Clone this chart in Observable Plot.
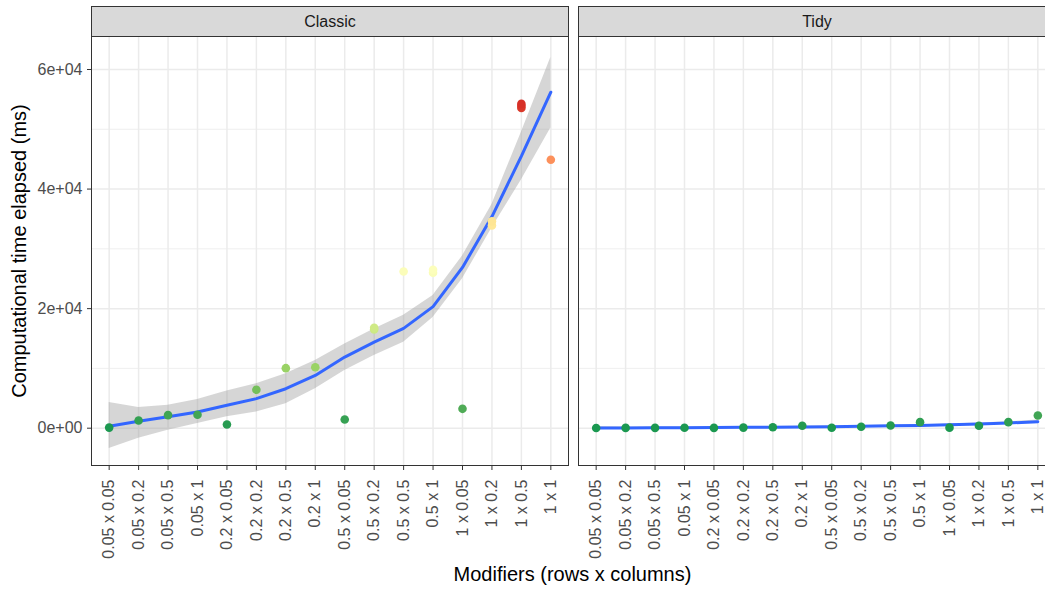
<!DOCTYPE html>
<html><head><meta charset="utf-8">
<script src="https://cdn.jsdelivr.net/npm/d3@7"></script>
<script src="https://cdn.jsdelivr.net/npm/@observablehq/plot@0.6"></script>
<style>
html,body{margin:0;padding:0;background:#fff;overflow:hidden}
#wrap{position:relative;width:1045px;height:590px;overflow:hidden;font-family:"Liberation Sans",Arial,Helvetica,sans-serif}
.strip{position:absolute;top:6px;height:31px;box-sizing:border-box;background:#d9d9d9;border:1px solid #333;font-size:16px;color:#1a1a1a;display:flex;align-items:center;justify-content:center}
.panel{position:absolute;top:0;height:590px}
.panel svg{max-width:none !important}
#xtitle{position:absolute;left:91px;width:963px;top:563px;text-align:center;font-size:20px;color:#000}
#ytitle{position:absolute;left:19px;top:251px;transform:translate(-50%,-50%) rotate(-90deg);white-space:nowrap;font-size:20px;color:#000}
</style>
</head><body>
<div id="wrap">
  <div id="left" class="panel" style="left:0;width:569px"></div>
  <div id="right" class="panel" style="left:577px;width:479px"></div>
  <div class="strip" style="left:91px;width:478px">Classic</div>
  <div class="strip" style="left:578px;width:478px">Tidy</div>
  <div id="xtitle">Modifiers (rows x columns)</div>
  <div id="ytitle">Computational time elapsed (ms)</div>
</div>
<script>
// ---- data ----
const categories = ["0.05 x 0.05","0.05 x 0.2","0.05 x 0.5","0.05 x 1","0.2 x 0.05","0.2 x 0.2","0.2 x 0.5","0.2 x 1","0.5 x 0.05","0.5 x 0.2","0.5 x 0.5","0.5 x 1","1 x 0.05","1 x 0.2","1 x 0.5","1 x 1"];
const panels = ["Classic", "Tidy"];
// elapsed time (ms), runs per category
const classicRuns = [[100],[1290],[2180],[2240],[620],[6420],[10040],[10200],[1460],[16500,16800],[26200],[26000,26500],[3240],[33900,34600],[53550,53900,54250],[44900]];
const tidyRuns = [[40],[50],[60],[70],[60],[100],[170],[400],[80],[230],[450],[1010],[90],[400],[1010],[2120]];
// loess smooth (fit and 95% band)
const classicFit = [330,1170,1900,2720,3830,4950,6600,8830,11900,14400,16700,20330,26900,35400,45500,56200];
const classicLo  = [-3400,-1700,-330,780,1900,2720,4100,6600,9670,12170,14380,18500,25000,33500,41500,50200];
const classicHi  = [4280,3450,3830,4780,6220,7450,9100,11330,14100,16600,18900,22200,28800,37400,49500,62000];
const tidyFit = [20,40,60,80,110,140,170,210,260,320,390,470,570,700,870,1080];
const tidyLo  = [-250,-140,-80,-50,-10,20,50,90,140,200,270,350,440,550,680,800];
const tidyHi  = [290,220,200,210,230,260,290,330,380,440,510,590,700,850,1060,1360];
const yTicks = [0, 20000, 40000, 60000];
const yTickLabels = ["0e+00", "2e+04", "4e+04", "6e+04"];
const yMinorTicks = [10000, 30000, 50000];
const yDomain = [-6240, 65520];
const pointPalette = ["#1a9850","#91cf60","#d9ef8b","#ffffbf","#fee08b","#fc8d59","#d73027"];

// ---- build tables ----
const toPoints = runs => runs.flatMap((vals, i) => vals.map(v => ({cat: categories[i], time: v})));
const toSmooth = (fit, lo, hi) => categories.map((c, i) => ({cat: c, fit: fit[i], lo: lo[i], hi: hi[i]}));
const classicPts = toPoints(classicRuns), tidyPts = toPoints(tidyRuns);
const ext = d3.extent([...classicPts, ...tidyPts], d => d.time);
const colorDomain = d3.range(pointPalette.length).map(i => ext[0] + (ext[1] - ext[0]) * i / (pointPalette.length - 1));

function makePanel(points, smooth, showY) {
  const marks = [
    Plot.ruleY(yMinorTicks, {stroke: "#ebebeb", strokeWidth: 0.8}),
    Plot.ruleY(yTicks, {stroke: "#ebebeb", strokeWidth: 1.5}),
    Plot.ruleX(categories, {stroke: "#ebebeb", strokeWidth: 1.5}),
    Plot.areaY(smooth, {x: "cat", y1: "lo", y2: "hi", fill: "#999999", fillOpacity: 0.4}),
    Plot.lineY(smooth, {x: "cat", y: "fit", stroke: "#3366FF", strokeWidth: 3}),
    Plot.dot(points, {x: "cat", y: "time", fill: "time", r: 4.3}),
    Plot.frame({stroke: "#333333", strokeWidth: 1}),
    Plot.axisX({tickRotate: -90, tickSize: 5, tickPadding: 9, fontSize: 16, stroke: "#333333", fill: "#4d4d4d", label: null})
  ];
  if (showY) marks.push(Plot.axisY({ticks: yTicks, tickFormat: d => yTickLabels[yTicks.indexOf(d)], tickSize: 4, tickPadding: 5, fontSize: 16, stroke: "#333333", fill: "#4d4d4d", label: null}));
  return Plot.plot({
    width: showY ? 569 : 479,
    height: 590,
    marginTop: 36,
    marginBottom: 125,
    marginLeft: showY ? 91 : 1,
    marginRight: 1,
    style: {fontFamily: '"Liberation Sans", Arial, Helvetica, sans-serif', background: "transparent", maxWidth: "none"},
    x: {type: "point", domain: categories, padding: 0.6, round: false, axis: null},
    y: {domain: yDomain, axis: null},
    color: {type: "linear", domain: colorDomain, range: pointPalette, interpolate: "lab"},
    marks
  });
}
document.getElementById("left").appendChild(makePanel(classicPts, toSmooth(classicFit, classicLo, classicHi), true));
document.getElementById("right").appendChild(makePanel(tidyPts, toSmooth(tidyFit, tidyLo, tidyHi), false));
</script>
</body></html>
